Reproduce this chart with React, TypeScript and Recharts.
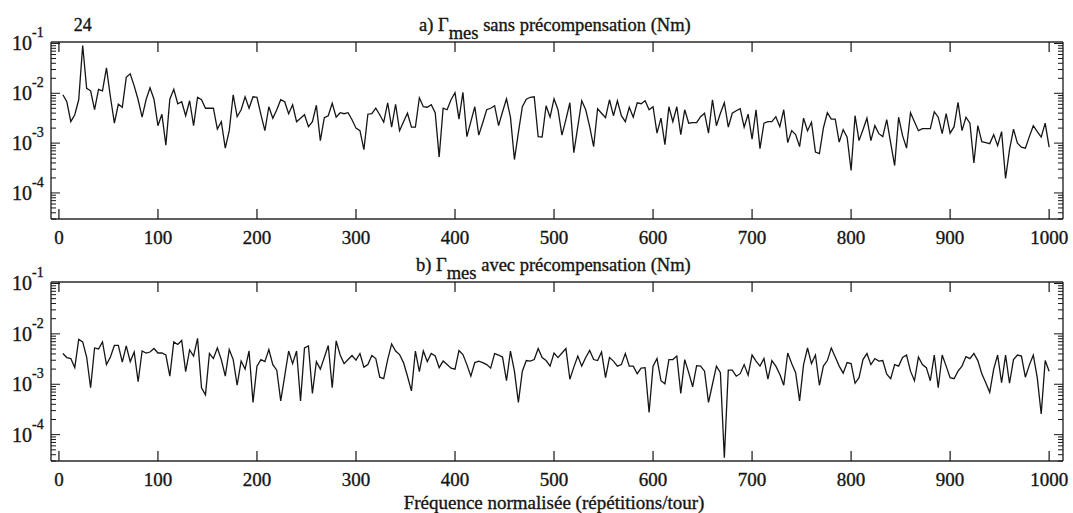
import { LineChart, Line, XAxis, YAxis, ReferenceDot } from 'recharts'

// spectra are sampled every 4 rep/tour, first bin at 4
const FREQ_STEP = 4
const X_TICKS = [0, 100, 200, 300, 400, 500, 600, 700, 800, 900, 1000]
const X_DOMAIN: [number, number] = [-8, 1014]
const Y_DOMAIN: [number, number] = [3e-5, 0.107]
const Y_MAJOR = [1e-4, 1e-3, 1e-2, 1e-1]
const Y_EXP_LABELS = ['-4', '-3', '-2', '-1']
const Y_MINOR_MULT = [2, 3, 4, 5, 6, 7, 8, 9]
const PEAK_FREQ = 24

// log10 of |Γmes| (Nm), a) sans précompensation
const logSans = [
  -2.03, -2.17, -2.57, -2.43, -2.13, -1.04, -1.9, -1.95, -2.33, -1.92,
  -1.95, -1.49, -2.07, -2.6, -2.22, -2.28, -1.68, -1.61, -1.85, -2.13,
  -2.48, -2.13, -1.89, -2.12, -2.65, -2.42, -3.04, -2.12, -1.92, -2.21,
  -2.17, -2.45, -2.15, -2.65, -2.08, -2.13, -2.3, -2.3, -2.3, -2.72,
  -2.57, -3.1, -2.75, -2.03, -2.47, -2.33, -2.07, -2.3, -2.07, -2.08,
  -2.43, -2.75, -2.27, -2.5, -2.33, -2.13, -2.17, -2.41, -2.23, -2.57,
  -2.5, -2.43, -2.67, -2.57, -2.24, -2.95, -2.49, -2.45, -2.2, -2.48,
  -2.39, -2.41, -2.39, -2.53, -2.7,
  -2.75, -3.13, -2.42, -2.41, -2.3, -2.43, -2.58, -2.19, -2.68, -2.22,
  -2.75, -2.57, -2.4, -2.68, -2.68, -2.09, -2.27, -2.28, -2.23, -2.39,
  -3.28, -2.3, -2.33, -2.13, -1.99, -2.52, -1.98, -2.87, -2.57, -2.27,
  -2.84, -2.59, -2.33, -2.3, -2.25, -2.65, -2.37, -2.11, -2.48, -3.33,
  -2.79, -2.27, -2.12, -2.08, -2.07, -2.87, -2.88, -2.25, -2.48, -2.11,
  -2.33, -2.84, -2.53, -2.19, -3.19, -2.67, -2.15, -2.33, -2.67, -3.07,
  -2.31, -2.4, -2.49, -2.13, -2.45, -2.15, -2.45, -2.57, -2.28, -2.48,
  -2.19, -2.21, -2.15, -2.33, -2.27, -2.8, -2.5, -3.03, -2.27, -2.57,
  -2.27, -2.83, -2.33, -2.6, -2.59, -2.59, -2.47, -2.4, -2.8,
  -2.13, -2.65, -2.4, -2.19, -2.68, -2.4, -2.35, -2.31, -2.68, -2.42,
  -2.92, -2.33, -3.11, -2.6, -2.57, -2.57, -2.47, -2.67, -2.33, -2.99,
  -2.75, -2.83, -3.07, -2.5, -2.75, -2.58, -3.18, -3.21, -2.7, -2.39,
  -2.52, -2.52, -2.98, -2.73, -2.88, -3.55, -2.45, -2.95, -2.73, -2.5,
  -2.95, -2.65, -2.81, -2.87, -2.53, -3.0, -3.45, -2.48, -2.85, -3.1,
  -2.39, -2.57, -2.75, -2.71, -2.71, -2.71, -2.37, -2.48, -2.81, -2.41,
  -2.8, -2.67, -2.18, -2.75, -2.48, -2.6, -3.4, -2.65, -2.97, -2.99,
  -3.01, -2.83, -3.05, -2.77, -3.71, -3.13, -2.72, -3.0, -3.08, -3.1,
  -2.87, -2.65, -2.77, -2.88, -2.6, -3.08,
]

// log10 of |Γmes| (Nm), b) avec précompensation
const logAvec = [
  -2.39, -2.47, -2.49, -2.67, -2.11, -2.16, -2.46, -3.07, -2.28, -2.3,
  -2.16, -2.61, -2.46, -2.23, -2.23, -2.56, -2.24, -2.55, -2.36, -2.95,
  -2.34, -2.38, -2.36, -2.29, -2.38, -2.38, -2.42, -2.84, -2.16, -2.21,
  -2.13, -2.75, -2.32, -2.44, -2.09, -3.07, -3.21, -2.39, -2.49, -2.28,
  -2.51, -2.84, -2.31, -2.51, -3.02, -2.54, -2.7, -2.34, -3.36, -2.64,
  -2.51, -2.55, -2.31, -2.61, -2.72, -3.33, -2.84, -2.34, -2.59, -2.34,
  -3.33, -2.28, -2.24, -3.18, -2.55, -2.7, -2.47, -2.23, -3.07, -2.14,
  -2.42, -2.59, -2.51, -2.43, -2.52,
  -2.39, -2.66, -2.61, -2.43, -2.49, -2.86, -2.89, -2.51, -2.2, -2.34,
  -2.41, -2.57, -2.84, -3.13, -2.34, -2.75, -2.34, -2.55, -2.39, -2.44,
  -2.67, -2.54, -2.61, -2.68, -2.7, -2.33, -2.41, -2.61, -2.84, -2.57,
  -2.54, -2.57, -2.61, -2.68, -2.39, -2.42, -2.46, -2.93, -2.34, -2.74,
  -3.36, -2.74, -2.53, -2.54, -2.51, -2.29, -2.47, -2.53, -2.64, -2.38,
  -2.47, -2.38, -2.29, -2.9, -2.66, -2.44, -2.64, -2.47, -2.33, -2.51,
  -2.53, -2.36, -2.87, -2.47, -2.54, -2.64, -2.61, -2.39, -2.64, -2.64,
  -2.79, -2.68, -2.67, -3.56, -2.64, -2.49, -2.93, -2.99, -2.51, -2.51,
  -2.44, -3.18, -2.51, -2.77, -3.05, -2.63, -2.64, -2.74, -3.36,
  -3.0, -2.64, -2.77, -4.46, -2.72, -2.72, -2.84, -2.79, -2.61, -2.82,
  -2.42, -2.54, -2.64, -2.49, -2.9, -2.53, -2.64, -2.8, -3.02, -2.38,
  -2.59, -2.77, -3.33, -2.61, -2.28, -2.59, -2.42, -3.02, -2.64, -2.53,
  -2.28, -2.46, -2.64, -2.78, -2.57, -2.59, -2.98, -2.87, -2.51, -2.39,
  -2.61, -2.49, -2.54, -2.53, -2.8, -2.89, -2.61, -2.64, -2.47, -2.42,
  -2.74, -2.93, -2.46, -2.61, -2.67, -2.93, -2.42, -3.07, -2.42, -2.64,
  -2.87, -2.89, -2.74, -2.64, -2.45, -2.49, -2.39, -2.53, -2.79, -2.97,
  -3.16, -2.7, -2.42, -2.97, -2.42, -2.98, -2.51, -2.42, -2.44, -2.86,
  -2.62, -2.42, -2.87, -3.59, -2.53, -2.74,
]

const toRows = (logs: number[]) =>
  logs.map((l, i) => ({ f: (i + 1) * FREQ_STEP, v: 10 ** l }))

const rowsSans = toRows(logSans)
const rowsAvec = toRows(logAvec)
const peakSans = rowsSans.find((r) => r.f === PEAK_FREQ)!

const Y_TICKS = [
  ...Y_MAJOR,
  ...[1e-5, 1e-4, 1e-3, 1e-2].flatMap((d) => Y_MINOR_MULT.map((k) => k * d)),
]
  .filter((v) => v >= Y_DOMAIN[0] && v <= Y_DOMAIN[1])
  .sort((a, b) => a - b)

const FONT = "'Liberation Serif', 'Times New Roman', serif"
const INK = '#151515'
const AXIS = { stroke: '#2a2a2a', strokeWidth: 1.4 }
// the scanned lettering is a little heavier than plain Times
const TEXT_STYLE = { fontFamily: FONT, fill: INK, stroke: INK, strokeWidth: 0.35 }

function majorIndex(v: number) {
  return Y_MAJOR.findIndex((m) => Math.abs(v / m - 1) < 1e-6)
}

function BottomTick({ x, y, payload }: any) {
  return (
    <g>
      <line x1={x} x2={x} y1={y} y2={y - 10} stroke={INK} strokeWidth={1.2} />
      <text x={x} y={y + 25} textAnchor="middle" fontSize={19} {...TEXT_STYLE}>
        {payload.value}
      </text>
    </g>
  )
}

function TopTick({ x, y }: any) {
  return <line x1={x} x2={x} y1={y} y2={y + 10} stroke={INK} strokeWidth={1.2} />
}

function LeftTick({ x, y, payload }: any) {
  const i = majorIndex(payload.value)
  return (
    <g>
      <line x1={x} x2={x + (i >= 0 ? 9 : 5)} y1={y} y2={y} stroke={INK} strokeWidth={1} />
      {i >= 0 && (
        <text x={x - 39} y={y + 7} fontSize={20} {...TEXT_STYLE}>
          10
          <tspan dy={-13} fontSize={14}>
            {Y_EXP_LABELS[i]}
          </tspan>
        </text>
      )}
    </g>
  )
}

function RightTick({ x, y, payload }: any) {
  const i = majorIndex(payload.value)
  return <line x1={x} x2={x - (i >= 0 ? 9 : 5)} y1={y} y2={y} stroke={INK} strokeWidth={1} />
}

interface PanelProps {
  rows: { f: number; v: number }[]
  height: number
  margin: { top: number; right: number; bottom: number; left: number }
  children?: React.ReactNode
}

// axes are 1px thick so that the margins alone place the plot frame
function Panel({ rows, height, margin, children }: PanelProps) {
  return (
    <LineChart width={1073} height={height} data={rows} margin={margin}>
      <XAxis
        xAxisId="b"
        dataKey="f"
        type="number"
        domain={X_DOMAIN}
        allowDataOverflow
        ticks={X_TICKS}
        interval={0}
        height={1}
        tickSize={0}
        tickMargin={0}
        tickLine={false}
        axisLine={AXIS}
        tick={(p: any) => <BottomTick {...p} />}
      />
      <XAxis
        xAxisId="t"
        orientation="top"
        dataKey="f"
        type="number"
        domain={X_DOMAIN}
        allowDataOverflow
        ticks={X_TICKS}
        interval={0}
        height={1}
        tickSize={0}
        tickMargin={0}
        tickLine={false}
        axisLine={AXIS}
        tick={(p: any) => <TopTick {...p} />}
      />
      <YAxis
        yAxisId="l"
        dataKey="v"
        type="number"
        scale="log"
        domain={Y_DOMAIN}
        allowDataOverflow
        ticks={Y_TICKS}
        interval={0}
        width={1}
        tickSize={0}
        tickMargin={0}
        tickLine={false}
        axisLine={AXIS}
        tick={(p: any) => <LeftTick {...p} />}
      />
      <YAxis
        yAxisId="r"
        orientation="right"
        dataKey="v"
        type="number"
        scale="log"
        domain={Y_DOMAIN}
        allowDataOverflow
        ticks={Y_TICKS}
        interval={0}
        width={1}
        tickSize={0}
        tickMargin={0}
        tickLine={false}
        axisLine={AXIS}
        tick={(p: any) => <RightTick {...p} />}
      />
      <Line
        xAxisId="b"
        yAxisId="l"
        dataKey="v"
        type="linear"
        stroke={INK}
        strokeWidth={1.3}
        dot={false}
        isAnimationActive={false}
      />
      {children}
    </LineChart>
  )
}

export default function App() {
  return (
    <div
      style={{
        position: 'absolute',
        left: 0,
        top: 0,
        width: 1073,
        height: 513,
        background: '#fff',
        fontFamily: FONT,
      }}
    >
      <div style={{ position: 'absolute', left: 0, top: 0 }}>
        <Panel rows={rowsSans} height={250} margin={{ top: 41, right: 9, bottom: 30, left: 50 }}>
          <ReferenceDot
            xAxisId="b"
            yAxisId="l"
            x={PEAK_FREQ}
            y={peakSans.v}
            r={0}
            fill="none"
            stroke="none"
            label={{ value: String(PEAK_FREQ), position: 'top', offset: 14, fontSize: 18, ...TEXT_STYLE }}
          />
        </Panel>
      </div>
      <div style={{ position: 'absolute', left: 0, top: 250 }}>
        <Panel rows={rowsAvec} height={263} margin={{ top: 31, right: 9, bottom: 51, left: 50 }} />
      </div>
      <svg
        width={1073}
        height={513}
        style={{ position: 'absolute', left: 0, top: 0, pointerEvents: 'none' }}
      >
        <text x={419} y={31} fontSize={18.5} {...TEXT_STYLE}>
          a) Γ<tspan dy={8}>mes</tspan>
          <tspan dy={-8}> sans précompensation (Nm)</tspan>
        </text>
        <text x={416} y={271} fontSize={18.5} {...TEXT_STYLE}>
          b) Γ<tspan dy={8}>mes</tspan>
          <tspan dy={-8}> avec précompensation (Nm)</tspan>
        </text>
        <text x={554} y={509} textAnchor="middle" fontSize={19} {...TEXT_STYLE}>
          Fréquence normalisée (répétitions/tour)
        </text>
      </svg>
    </div>
  )
}
